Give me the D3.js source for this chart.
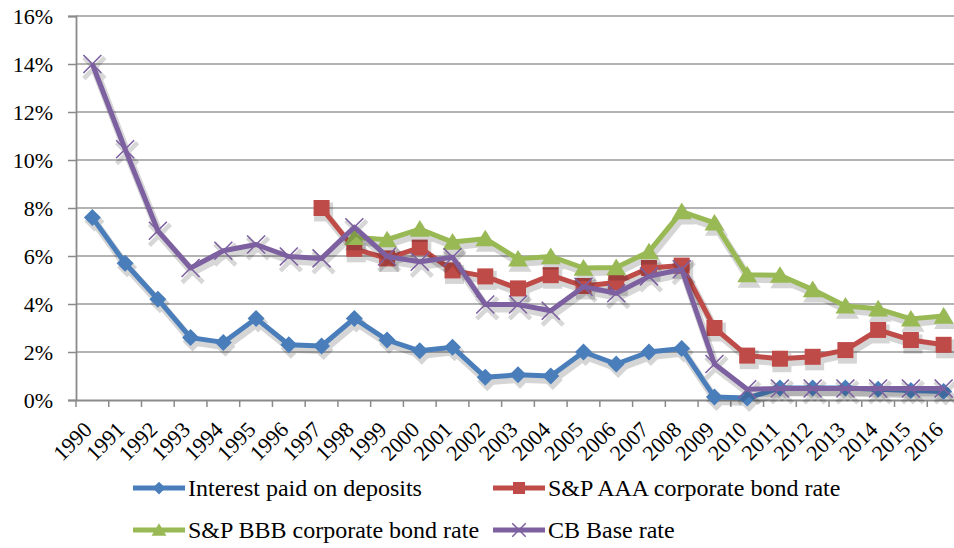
<!DOCTYPE html>
<html>
<head>
<meta charset="utf-8">
<script src="https://cdn.jsdelivr.net/npm/d3@7"></script>
</head>
<body style="margin:0">
<div id="chart"></div>
<script>
/* DATA */
const years = d3.range(1990, 2017).map(String);
const yTicks = [0, 2, 4, 6, 8, 10, 12, 14, 16];

const deposits = [7.6, 5.7, 4.2, 2.6, 2.4, 3.4, 2.3, 2.25, 3.4, 2.5, 2.05, 2.2, 0.95, 1.05, 1.0,
                  2.0, 1.5, 2.0, 2.15, 0.12, 0.08, 0.5, 0.5, 0.5, 0.45, 0.4, 0.35];
const aaa = [null, null, null, null, null, null, null, 8.0, 6.3, 5.9, 6.35, 5.4, 5.15, 4.65, 5.2,
             4.75, 4.9, 5.5, 5.6, 3.0, 1.85, 1.72, 1.8, 2.08, 2.92, 2.5, 2.3];
const bbb = [null, null, null, null, null, null, null, null, 6.78, 6.68, 7.12, 6.58, 6.72, 5.88, 5.98,
             5.5, 5.52, 6.18, 7.85, 7.38, 5.22, 5.2, 4.6, 3.92, 3.8, 3.38, 3.5];
const cbBase = [14.0, 10.45, 7.05, 5.5, 6.22, 6.48, 5.98, 5.9, 7.2, 5.98, 5.76, 5.95, 3.98, 3.98, 3.72,
                4.72, 4.45, 5.15, 5.45, 1.5, 0.45, 0.48, 0.48, 0.48, 0.48, 0.48, 0.48];

const seriesNames = ["Interest paid on deposits", "S&P AAA corporate bond rate",
                     "S&P BBB corporate bond rate", "CB Base rate"];

/* SVG CANVAS */
const width = 954;
const height = 548;
const margin = {top: 16, left: 76, right: -6, bottom: 148};
const serif = "Liberation Serif";

const svg = d3.select("#chart")
  .append("svg")
  .attr("width", width)
  .attr("height", height)
  .attr("font-family", serif);

/* SCALES */
const xScale = d3.scaleBand()
  .domain(years)
  .range([margin.left, width - margin.right]);

const yScale = d3.scaleLinear()
  .domain([0, 16])
  .range([height - margin.bottom, margin.top]);

/* GRID */
svg.append("g")
  .selectAll("line")
  .data(yTicks.filter(d => d > 0))
  .enter()
  .append("line")
    .attr("x1", margin.left)
    .attr("x2", width)
    .attr("y1", d => yScale(d))
    .attr("y2", d => yScale(d))
    .attr("stroke", "#9a9a9a")
    .attr("stroke-width", 1.6);

/* AXES (lines from d3.axis, labels as plain text below) */
svg.append("g")
  .attr("transform", `translate(${margin.left},0)`)
  .call(d3.axisLeft(yScale).tickValues(yTicks).tickSize(8).tickFormat(""));

svg.append("g")
  .attr("transform", `translate(0,${height - margin.bottom})`)
  .call(d3.axisBottom(xScale).tickSize(0).tickFormat(""));

// ticks sit on the category boundaries
svg.append("g")
  .selectAll("line")
  .data(years.concat(["end"]))
  .enter()
  .append("line")
    .attr("x1", (d, i) => margin.left + i * xScale.step())
    .attr("x2", (d, i) => margin.left + i * xScale.step())
    .attr("y1", yScale(0))
    .attr("y2", yScale(0) + 7)
    .attr("stroke", "#8a8a8a")
    .attr("stroke-width", 1.5);

svg.selectAll(".domain").attr("stroke", "#8a8a8a").attr("stroke-width", 1.8);
svg.selectAll(".tick line").attr("stroke", "#8a8a8a").attr("stroke-width", 1.5);

svg.selectAll(".ylab")
  .data(yTicks)
  .enter()
  .append("text")
    .attr("class", "ylab")
    .attr("x", margin.left - 23)
    .attr("y", d => yScale(d) + 7.5)
    .attr("text-anchor", "end")
    .attr("font-family", serif)
    .attr("font-size", 22)
    .attr("fill", "#000")
    .text(d => d + "%");

svg.selectAll(".xlab")
  .data(years)
  .enter()
  .append("text")
    .attr("class", "xlab")
    .attr("text-anchor", "end")
    .attr("transform", d => `translate(${xScale(d) + xScale.bandwidth() / 2 + 1},${yScale(0) + 31}) rotate(-45)`)
    .attr("font-family", serif)
    .attr("font-size", 22)
    .attr("fill", "#000")
    .text(d => d);

/* MARKERS */
function markerPath(kind, s) {
  if (kind === "diamond") return `M0,${-s}L${s},0L0,${s}L${-s},0Z`;
  if (kind === "square") return `M${-s},${-s}H${s}V${s}H${-s}Z`;
  if (kind === "triangle") return `M0,${-s}L${s * 1.1},${s * 0.85}H${-s * 1.1}Z`;
  return `M${-s},${-s}L${s},${s}M${-s},${s}L${s},${-s}`;
}

const series = [
  {name: seriesNames[0], values: deposits, color: "#4A7EBB", marker: "diamond", size: 8.5},
  {name: seriesNames[1], values: aaa, color: "#BE4B48", marker: "square", size: 8},
  {name: seriesNames[2], values: bbb, color: "#98B954", marker: "triangle", size: 9},
  {name: seriesNames[3], values: cbBase, color: "#7D60A0", marker: "cross", size: 9}
];

const line = d3.line()
  .defined(d => d.v !== null)
  .x(d => xScale(d.year) + xScale.bandwidth() / 2)
  .y(d => yScale(d.v));

/* DRAW THE MARKS (soft offset copy first, as a shadow) */
function drawSeries(g, s, pts, color, widen) {
  g.append("path")
    .datum(pts)
    .attr("d", line)
    .attr("fill", "none")
    .attr("stroke", color)
    .attr("stroke-width", 5 + widen)
    .attr("stroke-linejoin", "round");

  g.selectAll(".pt")
    .data(pts.filter(d => d.v !== null))
    .enter()
    .append("path")
      .attr("transform", d => `translate(${xScale(d.year) + xScale.bandwidth() / 2},${yScale(d.v)})`)
      .attr("d", markerPath(s.marker, s.size + widen / 2))
      .attr("fill", s.marker === "cross" ? "none" : color)
      .attr("stroke", color)
      .attr("stroke-width", s.marker === "cross" ? 1.6 + widen : 0);
}

series.forEach(s => {
  const pts = years.map((y, i) => ({year: y, v: s.values[i]}));
  const sh = svg.append("g").attr("transform", "translate(2,4)").attr("opacity", 0.16);
  drawSeries(sh, s, pts, "#000", 3);
  drawSeries(svg.append("g"), s, pts, s.color, 0);
});

/* LEGEND */
const legendPos = [
  {x: 133, y: 488}, {x: 493, y: 488},
  {x: 133, y: 530}, {x: 493, y: 530}
];

series.forEach((s, i) => {
  const p = legendPos[i];
  const g = svg.append("g").attr("transform", `translate(${p.x},${p.y})`);
  g.append("line")
    .attr("x1", 0).attr("x2", 52)
    .attr("stroke", s.color)
    .attr("stroke-width", 5);
  g.append("path")
    .attr("transform", "translate(26,0)")
    .attr("d", markerPath(s.marker, s.size * 0.75))
    .attr("fill", s.marker === "cross" ? "none" : s.color)
    .attr("stroke", s.color)
    .attr("stroke-width", s.marker === "cross" ? 1.5 : 0);
  svg.append("text")
    .attr("x", p.x + 55)
    .attr("y", p.y + 8)
    .attr("font-family", serif)
    .attr("font-size", 24)
    .attr("fill", "#000")
    .text(s.name);
});
</script>
</body>
</html>
